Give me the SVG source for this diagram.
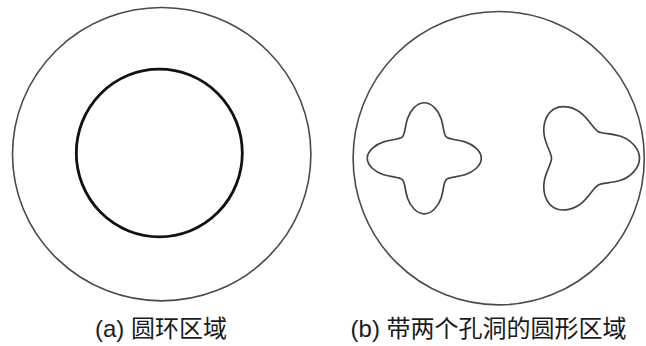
<svg xmlns="http://www.w3.org/2000/svg" width="646" height="346" viewBox="0 0 646 346">
<style>
.outer{fill:none;stroke:#4a4a4a;stroke-width:1.6}
.inner{fill:none;stroke:#111;stroke-width:2.8}
.hole{fill:none;stroke:#444;stroke-width:1.7;stroke-linejoin:round}
.lbl{font-family:"Liberation Sans","Noto Sans CJK SC",sans-serif;font-size:24px;fill:#1a1a1a}
</style>
<rect width="646" height="346" fill="#fff"/>
<g id="fig-a">
<ellipse class="outer" cx="161.7" cy="154.2" rx="149.2" ry="146.7"/>
<ellipse class="inner" cx="159.3" cy="153" rx="83" ry="83.9"/>
<text class="lbl" x="95" y="337">(a) 圆环区域</text>
</g>
<g id="fig-b">
<ellipse class="outer" cx="498.7" cy="158.2" rx="145.6" ry="146.7"/>
<path class="hole" transform="translate(424.3,158.3) scale(1,0.975)" d="M21.92,-21.92 C24.79,-19.05 32.16,-19.56 40.65,-16.84 C49.14,-14.12 57,-7.46 57,0 C57,7.46 49.14,14.12 40.65,16.84 C32.16,19.56 24.79,19.05 21.92,21.92 C19.05,24.79 19.56,32.16 16.84,40.65 C14.12,49.14 7.46,57 0,57 C-7.46,57 -14.12,49.14 -16.84,40.65 C-19.56,32.16 -19.05,24.79 -21.92,21.92 C-24.79,19.05 -32.16,19.56 -40.65,16.84 C-49.14,14.12 -57,7.46 -57,0 C-57,-7.46 -49.14,-14.12 -40.65,-16.84 C-32.16,-19.56 -24.79,-19.05 -21.92,-21.92 C-19.05,-24.79 -19.56,-32.16 -16.84,-40.65 C-14.12,-49.14 -7.46,-57 0,-57 C7.46,-57 14.12,-49.14 16.84,-40.65 C19.56,-32.16 19.05,-24.79 21.92,-21.92 Z"/>
<path class="hole" transform="translate(582.5,158.3)" d="M15.5,-26.85 C20.19,-24.15 28.38,-25.25 38.11,-22 C47.84,-18.75 57,-9.95 57,0 C57,9.95 47.84,18.75 38.11,22 C28.38,25.25 20.19,24.15 15.5,26.85 C10.82,29.56 7.68,37.2 0,44 C-7.68,50.8 -19.88,54.34 -28.5,49.36 C-37.12,44.39 -40.16,32.06 -38.11,22 C-36.06,11.95 -31.01,5.41 -31,0 C-31.01,-5.41 -36.06,-11.95 -38.11,-22 C-40.16,-32.06 -37.12,-44.39 -28.5,-49.36 C-19.88,-54.34 -7.68,-50.8 0,-44 C7.68,-37.2 10.82,-29.56 15.5,-26.85 Z"/>
<text class="lbl" x="350.6" y="337">(b) 带两个孔洞的圆形区域</text>
</g>
</svg>
